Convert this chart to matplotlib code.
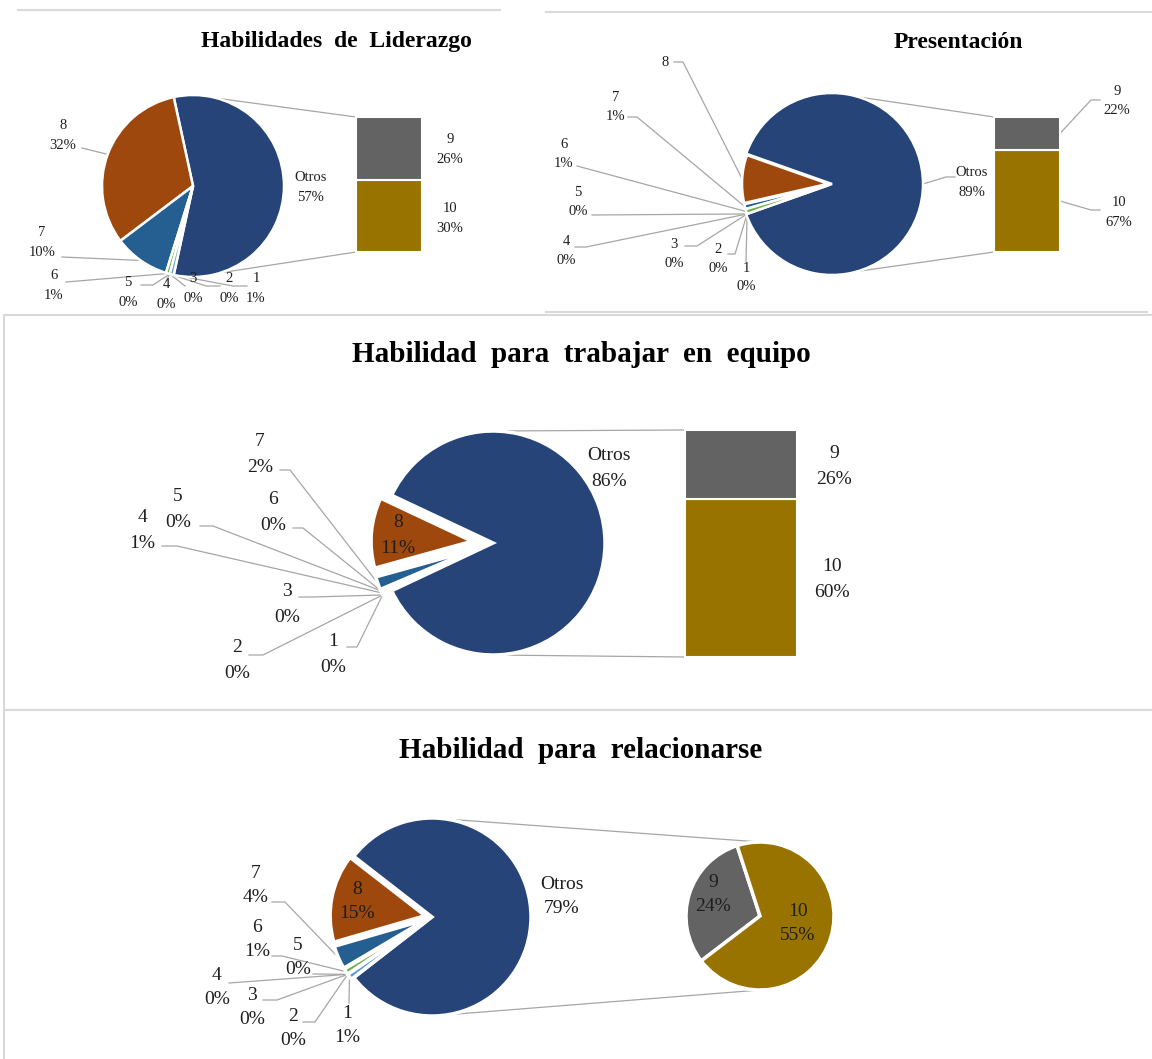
import matplotlib
matplotlib.use('Agg')
import matplotlib.pyplot as plt
import numpy as np

#=====================================================
# data: percent of answers per score (1..10)

categories = ['1', '2', '3', '4', '5', '6', '7', '8', '9', '10']
otrosName = 'Otros'

liderazgo    = [0.7, 0.0, 0.0, 0.0, 0.0, 0.7, 9.9, 31.9, 26.4, 30.4]
presentacion = [0.0, 0.0, 0.0, 0.0, 0.0, 0.9, 0.9, 9.0, 21.8, 67.4]
equipo       = [0.0, 0.0, 0.0, 0.6, 0.0, 0.0, 2.1, 11.3, 26.2, 59.8]
relacion     = [1.0, 0.0, 0.0, 0.0, 0.0, 1.0, 4.0, 15.0, 24.0, 55.0]

titles = ['Habilidades  de  Liderazgo',
          'Presentación',
          'Habilidad  para  trabajar  en  equipo',
          'Habilidad  para  relacionarse']

colors = ['#5B9BD5', '#ED7D31', '#A5A5A5', '#FFC000', '#4472C4', '#70AD47',
          '#255E91', '#9E480E', '#636363', '#997300']
otrosColor = '#264478'

#=====================================================

W, H = 1152, 1059
SERIF = 'Liberation Serif'
LINE = '#A6A6A6'
FRAME = '#D9D9D9'
TEXT = '#1E1E1E'

def Y(y):
    # pixel row from the top -> data y
    return H - y

#-----------------------------------------------------
# layout of each panel (pixel positions, from the top-left corner)

layoutLiderazgo = dict(
    title=(336, 42), titleSize=17,
    pie=dict(cx=193, cy=186, r=91, rSmall=91, explode=0, edge=1.8),
    bar=dict(x0=356, x1=422, top=117, bottom=252),
    font=10.5, gap=20,
    labels={'8': (63, 135.5, [(82, 148)]),
            '7': (42, 242, [(62, 257)]),
            '6': (54, 285.5, [(66, 282)]),
            '5': (128, 292.5, [(141, 285), (153, 285)]),
            '4': (166, 294, [(166, 281)]),
            '3': (193, 288.5, [(185, 286)]),
            '2': (229, 288, [(220, 286), (206, 286)]),
            '1': (256, 288.5, [(247, 286), (233, 286)])},
    otros=(311, 187.5, None),
    second={'9': (450, 149.5, None), '10': (450, 218, None)},
    nameOnly=[],
)

layoutPresentacion = dict(
    title=(958, 42), titleSize=17,
    pie=dict(cx=832, cy=184, r=91, rSmall=86, explode=4, edge=1.8),
    bar=dict(x0=994, x1=1060, top=117, bottom=252),
    font=10.5, gap=19,
    labels={'8': (665, 62, [(674, 62), (683, 62)]),
            '7': (616, 107, [(628, 117), (637, 117)]),
            '6': (564, 154, [(577, 166)]),
            '5': (578, 202, [(592, 215)]),
            '4': (566, 251, [(575, 247), (586, 247)]),
            '3': (674, 254, [(685, 246), (697, 246)]),
            '2': (718, 259, [(728, 254), (735, 254)]),
            '1': (746, 277.5, [(746, 262)])},
    otros=(972, 182.5, [(955, 177), (946, 177)]),
    second={'9': (1117, 101, [(1100, 100), (1091, 100)]),
            '10': (1119, 212.5, [(1100, 210), (1091, 210)])},
    nameOnly=['8'],
)

layoutEquipo = dict(
    title=(581, 355), titleSize=21,
    pie=dict(cx=493, cy=543, r=112, rSmall=101, explode=21, edge=2.5),
    bar=dict(x0=685, x1=797, top=430, bottom=657),
    font=14, gap=26,
    labels={'8': (398, 535.5, None),
            '7': (260, 454, [(280, 470), (290, 470)]),
            '6': (273, 513, [(293, 528), (303, 528)]),
            '5': (178, 509.5, [(200, 526), (213, 526)]),
            '4': (142, 531, [(162, 546), (177, 546)]),
            '3': (287, 604.5, [(299, 597), (313, 597)]),
            '2': (237, 660.5, [(249, 655), (263, 655)]),
            '1': (333, 654.5, [(347, 647), (357, 647)])},
    otros=(609, 469, None),
    second={'9': (834, 466.5, None), '10': (832, 579.5, None)},
    nameOnly=[],
)

layoutRelacion = dict(
    title=(581, 750), titleSize=21,
    pie=dict(cx=432, cy=917, r=99, rSmall=95, explode=7, edge=2.5),
    pie2=dict(cx=760, cy=916, r=74, start=108, edge=2.5),
    font=14, gap=24,
    labels={'8': (357, 901.5, None),
            '7': (256, 885.5, [(272, 902), (285, 902)]),
            '6': (257, 939.5, [(272, 956), (282, 956)]),
            '5': (298, 957, [(313, 974)]),
            '4': (217, 987.5, [(229, 983)]),
            '3': (252, 1007.5, [(263, 1000), (277, 1000)]),
            '2': (293, 1028.5, [(303, 1022), (315, 1022)]),
            '1': (347, 1025.5, [(349, 1003)])},
    otros=(562, 896.5, None),
    second={'9': (713, 894.5, None), '10': (798, 923.5, None)},
    nameOnly=[],
)

#=====================================================

def main():

    fig = plt.figure(figsize=(W / 100, H / 100), dpi=100)
    ax = fig.add_axes([0, 0, 1, 1])

    drawFrames(ax)

    panels = [liderazgo, presentacion, equipo, relacion]
    layouts = [layoutLiderazgo, layoutPresentacion, layoutEquipo, layoutRelacion]
    for values, title, layout in zip(panels, titles, layouts):
        drawPanel(ax, values, title, layout)

    ax.set_aspect('auto')
    ax.set_xlim(0, W)
    ax.set_ylim(0, H)
    ax.axis('off')

    fig.savefig('out.png', dpi=100)

    return

#-----------------------------------------------------

def drawFrames(ax):

    kw = dict(color=FRAME, lw=1.5, zorder=0)
    ax.plot([18, 500], [Y(10), Y(10)], **kw)
    ax.plot([546, W], [Y(12), Y(12)], **kw)
    ax.plot([546, 1147], [Y(312), Y(312)], **kw)
    # middle panel (open on the right) and bottom panel
    ax.plot([W, 4, 4, W], [Y(315), Y(315), Y(710), Y(710)], **kw)
    ax.plot([4, 4], [Y(710), Y(H)], **kw)

    return

#-----------------------------------------------------

def pctText(v):
    return f'{int(round(v))}%'

def putLabel(ax, x, yc, name, value, layout, showPct=True):

    gap = layout['gap']
    kw = dict(ha='center', va='center', fontsize=layout['font'], family=SERIF, color=TEXT, zorder=5)
    if showPct:
        ax.text(x, Y(yc - gap / 2), name, **kw)
        ax.text(x, Y(yc + gap / 2), pctText(value), **kw)
    else:
        ax.text(x, Y(yc), name, **kw)

    return

def leader(ax, path, end):

    xs = [p[0] for p in path] + [end[0]]
    ys = [Y(p[1]) for p in path] + [end[1]]
    ax.plot(xs, ys, color=LINE, lw=0.9, zorder=1)

    return

def outerPoint(w):

    t = np.deg2rad((w.theta1 + w.theta2) / 2)
    return (w.center[0] + w.r * np.cos(t), w.center[1] + w.r * np.sin(t))

#-----------------------------------------------------

def drawPanel(ax, values, title, layout):

    tx, ty = layout['title']
    ax.text(tx, Y(ty), title, ha='center', va='center', fontsize=layout['titleSize'],
            fontweight='bold', family=SERIF, color='black')

    # primary pie: Otros (9 + 10) centred on the right, then 8, 7, ... 1 counterclockwise
    geo = layout['pie']
    otros = values[8] + values[9]
    primVals = [otros] + values[7::-1]
    primCols = [otrosColor] + colors[7::-1]
    start = -180 * otros / sum(primVals)
    # pie() adds the explode offset in data units, here pixels
    expl = [0] + [geo['explode']] * 8

    wedges, _ = ax.pie(primVals, colors=primCols, startangle=start, counterclock=True,
                       center=(geo['cx'], Y(geo['cy'])), radius=geo['r'], explode=expl,
                       wedgeprops=dict(edgecolor='white', linewidth=geo['edge']),
                       normalize=True, frame=True)
    for w, v in zip(wedges[1:], primVals[1:]):
        w.set_radius(geo['rSmall'])
        if v == 0:
            w.set_visible(False)
    for w in wedges:
        w.set_zorder(2)

    # labels of the primary pie
    for i in range(8):
        name = categories[i]
        lx, ly, path = layout['labels'][name]
        w = wedges[8 - i]
        putLabel(ax, lx, ly, name, values[i], layout, showPct=name not in layout['nameOnly'])
        if path:
            leader(ax, path, outerPoint(w))

    ox, oy, opath = layout['otros']
    putLabel(ax, ox, oy, otrosName, otros, layout)
    if opath:
        leader(ax, opath, outerPoint(wedges[0]))

    topPie = (geo['cx'], Y(geo['cy'] - geo['r']))
    botPie = (geo['cx'], Y(geo['cy'] + geo['r']))
    lineKw = dict(color=LINE, lw=0.9, zorder=0.5)

    if 'bar' in layout:
        # secondary stacked bar: 10 at the bottom, 9 on top
        b = layout['bar']
        scale = (b['bottom'] - b['top']) / otros
        xc = (b['x0'] + b['x1']) / 2
        width = b['x1'] - b['x0']
        h10 = values[9] * scale
        h9 = values[8] * scale
        ax.bar([xc], [h10], bottom=Y(b['bottom']), width=width, color=colors[9],
               edgecolor='white', linewidth=1.5, zorder=2)
        ax.bar([xc], [h9], bottom=Y(b['bottom']) + h10, width=width, color=colors[8],
               edgecolor='white', linewidth=1.5, zorder=2)

        ax.plot([topPie[0], b['x0']], [topPie[1], Y(b['top'])], **lineKw)
        ax.plot([botPie[0], b['x0']], [botPie[1], Y(b['bottom'])], **lineKw)

        ends = {'9': (b['x1'], Y(b['bottom']) + h10 + h9 / 2),
                '10': (b['x1'], Y(b['bottom']) + h10 / 2)}
        for name, idx in (('9', 8), ('10', 9)):
            lx, ly, path = layout['second'][name]
            putLabel(ax, lx, ly, name, values[idx], layout)
            if path:
                leader(ax, path, ends[name])
    else:
        # secondary pie
        g2 = layout['pie2']
        ax.pie([values[8], values[9]], colors=[colors[8], colors[9]], startangle=g2['start'],
               counterclock=True, center=(g2['cx'], Y(g2['cy'])), radius=g2['r'],
               wedgeprops=dict(edgecolor='white', linewidth=g2['edge'], zorder=2),
               normalize=True, frame=True)
        ax.plot([topPie[0], g2['cx']], [topPie[1], Y(g2['cy'] - g2['r'])], **lineKw)
        ax.plot([botPie[0], g2['cx']], [botPie[1], Y(g2['cy'] + g2['r'])], **lineKw)
        for name, idx in (('9', 8), ('10', 9)):
            lx, ly, path = layout['second'][name]
            putLabel(ax, lx, ly, name, values[idx], layout)

    return

#=====================================================

if __name__ == '__main__':
    main()
